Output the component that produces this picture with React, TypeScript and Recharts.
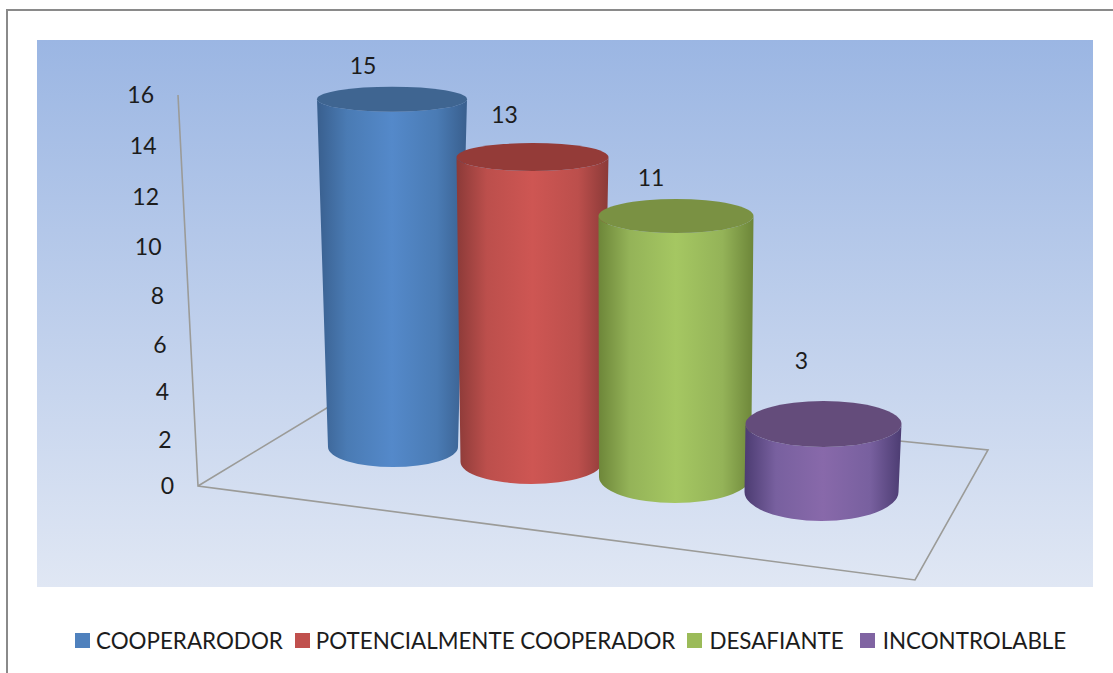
import { Bar, BarChart, LabelList, Legend, XAxis, YAxis } from 'recharts'

const FONT = 'Lato, "Open Sans", sans-serif'
const INK = '#1c1c1c'
const FRAME = '#9b9b98'

const CATEGORIES = ['COOPERARODOR', 'POTENCIALMENTE COOPERADOR', 'DESAFIANTE', 'INCONTROLABLE']
const VALUES = [15, 13, 11, 3]
const Y_TICKS = [0, 2, 4, 6, 8, 10, 12, 14, 16]

// one row per category, only its own series is filled, so the legend gets four entries
const ROWS = CATEGORIES.map((name, i) => ({ category: name, [name]: VALUES[i] }))

const COLORS = ['#4f81bd', '#c0504d', '#9bbb59', '#8064a2']
const SHADES = [
  { edge: '#395f8e', soft: '#4a7bb4', mid: '#5489ca', top: '#3f6591' },
  { edge: '#8b3a38', soft: '#bc4f4c', mid: '#ce5653', top: '#943b38' },
  { edge: '#6d8639', soft: '#94b358', mid: '#a5c762', top: '#7a9143' },
  { edge: '#4c3c72', soft: '#78609f', mid: '#8869aa', top: '#644c7b' },
]

// fake 3D: each bar sits at its own depth on the floor, the scale only gives the height
const SHIFT_X_TOP = [0, -3, -3, 1]
const SHIFT_X_BASE = [1, -4, -4, -1]
const SHIFT_Y_BASE = [-39, -24, -9, 6]
const FORESHORTEN = [0.949, 0.96, 0.971, 0.928]
const TOP_RX = [75, 76, 77.5, 78]
const TOP_RY = [12.5, 14, 17, 23]
const BASE_RX = [65, 71, 76, 77]
const BASE_RY = [20, 22, 26, 29]
const LABEL_DX = [-29, -28, -25, -22]
const LABEL_DY = [34, 43, 39, 64]
const LEGEND_ICON_GAP = [6, 6, 7, 8]
const LEGEND_ITEM_GAP = [12, 12, 16, 0]

function cylinderGeometry(i: number, x: number, y: number, width: number, height: number) {
  const mid = x + width / 2
  const baseY = y + height + SHIFT_Y_BASE[i]
  return {
    cx: mid + SHIFT_X_TOP[i],
    cy: baseY - height * FORESHORTEN[i],
    bx: mid + SHIFT_X_BASE[i],
    by: baseY,
  }
}

function Cylinder(props: any) {
  const { x, y, width, height, index, seriesIndex } = props
  if (index !== seriesIndex) return null
  const i = seriesIndex
  const { cx, cy, bx, by } = cylinderGeometry(i, x, y, width, height)
  const rx = TOP_RX[i]
  const ry = TOP_RY[i]
  const brx = BASE_RX[i]
  const bry = BASE_RY[i]
  const body = `M${cx - rx},${cy} L${bx - brx},${by} A${brx},${bry} 0 0 0 ${bx + brx},${by} L${cx + rx},${cy} A${rx},${ry} 0 0 1 ${cx - rx},${cy} Z`
  return (
    <g>
      <path d={body} fill={`url(#cyl${i})`} />
      <ellipse cx={cx} cy={cy} rx={rx} ry={ry} fill={SHADES[i].top} />
    </g>
  )
}

function ValueLabel(props: any) {
  const { x, y, width, height, index, value, seriesIndex } = props
  if (index !== seriesIndex || value == null) return null
  const g = cylinderGeometry(seriesIndex, x, y, width, height)
  return (
    <text
      x={g.cx + LABEL_DX[seriesIndex]}
      y={g.cy - LABEL_DY[seriesIndex]}
      textAnchor="middle"
      dominantBaseline="central"
      fill={INK}
      fontSize={23}
      fontFamily={FONT}
    >
      {value}
    </text>
  )
}

// axis labels follow the slanted wall edge
function WallTick(props: any) {
  const { y, payload } = props
  const t = (y - 95) / 391
  const wallX = 178 + 20 * t
  return (
    <text
      x={wallX - 24}
      y={y - 1 + 22 * t * (1 - t)}
      textAnchor="end"
      dominantBaseline="central"
      fill={INK}
      fontSize={23}
      fontFamily={FONT}
    >
      {payload.value}
    </text>
  )
}

function LegendRow({ payload }: any) {
  return (
    <div
      style={{
        position: 'absolute',
        left: 75,
        top: 627,
        display: 'flex',
        alignItems: 'center',
        whiteSpace: 'nowrap',
        fontFamily: FONT,
        fontSize: 22.4,
        color: INK,
      }}
    >
      {(payload || []).map((item: any, i: number) => (
        <span key={item.value} style={{ display: 'flex', alignItems: 'center', marginRight: LEGEND_ITEM_GAP[i] }}>
          <span style={{ width: 15, height: 15, background: item.color, marginRight: LEGEND_ICON_GAP[i] }} />
          {item.value}
        </span>
      ))}
    </div>
  )
}

export default function App() {
  return (
    <div style={{ position: 'absolute', left: 0, top: 0, width: 1113, height: 673, background: '#fff', overflow: 'hidden' }}>
      <div style={{ position: 'absolute', left: 6, top: 9, right: 0, bottom: 0, borderTop: '2px solid #8a8a8a', borderLeft: '2px solid #8a8a8a' }} />
      <BarChart
        width={1113}
        height={673}
        data={ROWS}
        margin={{ top: 95, right: 219, bottom: 187, left: 100 }}
        barCategoryGap={0}
      >
        <defs>
          <linearGradient id="plotBg" x1="0" y1="0" x2="0" y2="1">
            <stop offset="0" stopColor="#9bb6e3" />
            <stop offset="1" stopColor="#e0e7f4" />
          </linearGradient>
          {SHADES.map((s, i) => (
            <linearGradient key={i} id={`cyl${i}`} x1="0" y1="0" x2="1" y2="0">
              <stop offset="0" stopColor={s.edge} />
              <stop offset="0.2" stopColor={s.soft} />
              <stop offset="0.5" stopColor={s.mid} />
              <stop offset="0.8" stopColor={s.soft} />
              <stop offset="1" stopColor={s.edge} />
            </linearGradient>
          ))}
        </defs>
        <rect x={37} y={40} width={1056} height={547} fill="url(#plotBg)" />
        <path
          d="M178,95 L198,486 L915,580 L988,450 L860,437 M198,486 L340,400"
          fill="none"
          stroke={FRAME}
          strokeWidth={1.6}
        />
        <XAxis dataKey="category" hide />
        <YAxis
          width={220}
          domain={[0, 16]}
          ticks={Y_TICKS}
          interval={0}
          axisLine={false}
          tickLine={false}
          tick={<WallTick />}
        />
        <Legend content={<LegendRow />} itemSorter={null} wrapperStyle={{ left: 0, top: 0, width: 0 }} />
        {CATEGORIES.map((name, i) => (
          <Bar
            key={name}
            dataKey={name}
            stackId="all"
            fill={COLORS[i]}
            isAnimationActive={false}
            shape={(p: any) => <Cylinder {...p} seriesIndex={i} />}
          >
            <LabelList dataKey={name} content={(p: any) => <ValueLabel {...p} seriesIndex={i} />} />
          </Bar>
        ))}
      </BarChart>
    </div>
  )
}
